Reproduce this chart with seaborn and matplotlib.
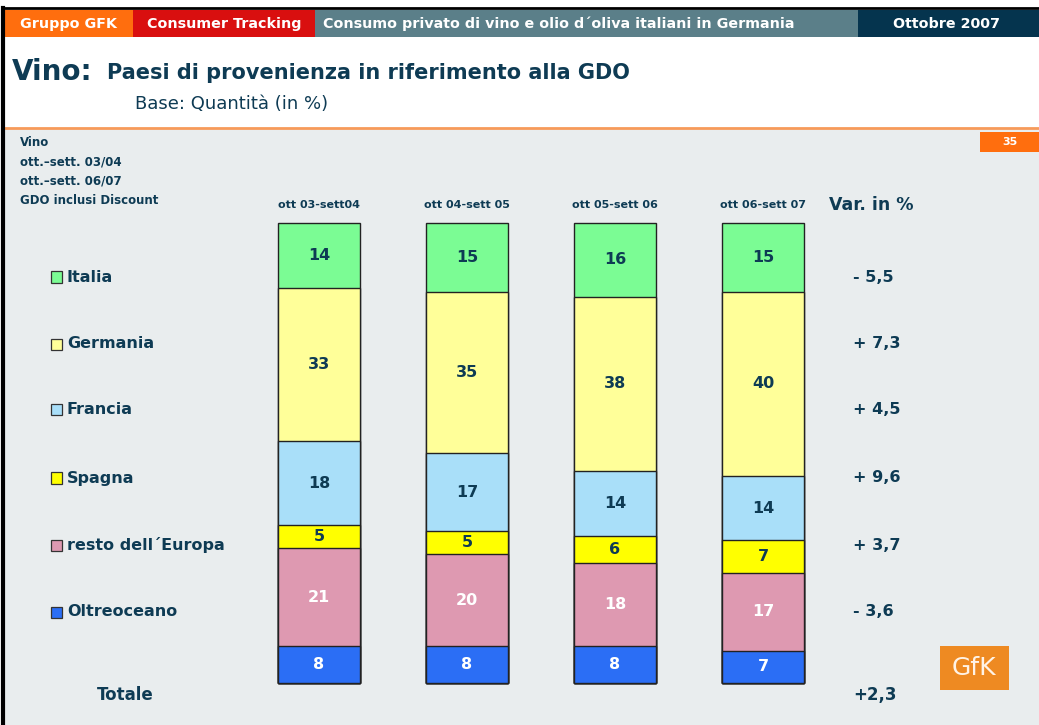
import numpy as np
import pandas as pd
import seaborn as sns
import matplotlib.pyplot as plt
from matplotlib.patches import Rectangle

periodi = ["ott 03-sett04", "ott 04-sett 05", "ott 05-sett 06", "ott 06-sett 07"]
# segmenti dal basso verso l'alto
paesi = ["Oltreoceano", "resto dell´Europa", "Spagna", "Francia", "Germania", "Italia"]
oltreoceano = [8, 8, 8, 7]
resto_europa = [21, 20, 18, 17]
spagna = [5, 5, 6, 7]
francia = [18, 17, 14, 14]
germania = [33, 35, 38, 40]
italia = [14, 15, 16, 15]
var_pct = ["- 3,6", "+ 3,7", "+ 9,6", "+ 4,5", "+ 7,3", "- 5,5"]
var_totale = "+2,3"

colori = ["#2B6EF5", "#DE99B1", "#FFFF00", "#A9DFF9", "#FFFF99", "#7BFC94"]
col_testo = ["white", "white", "#0E3B54", "#0E3B54", "#0E3B54", "#0E3B54"]

NAVY = "#0E3B54"
W, H = 1039, 725

def fx(x):
    return x / W

def fy(y):
    return 1 - y / H

valori = np.array([oltreoceano, resto_europa, spagna, francia, germania, italia], dtype=float)
quote = valori / valori.sum(axis=0) * 100
cum = np.cumsum(quote, axis=0)

fig = plt.figure(figsize=(10.39, 7.25), dpi=100, facecolor="white")

# sfondo grigio e cornice
fig.patches.append(Rectangle((fx(5), 0), 1, fy(128), transform=fig.transFigure,
                             facecolor="#E9EDEE", edgecolor="none", zorder=-5))
fig.lines.append(plt.Line2D([fx(5), 1], [fy(128), fy(128)], transform=fig.transFigure,
                            color="#F79A5A", lw=2))
fig.lines.append(plt.Line2D([fx(3), fx(3)], [0, fy(8)], transform=fig.transFigure,
                            color="black", lw=3))
fig.lines.append(plt.Line2D([fx(3), 1], [fy(8), fy(8)], transform=fig.transFigure,
                            color="black", lw=2))

# intestazione
header = [(5, 133, 20, "#FF6E0E", "Gruppo GFK"),
          (133, 315, 147, "#D90F0F", "Consumer Tracking"),
          (315, 858, 323, "#5B7F89", "Consumo privato di vino e olio d´oliva italiani in Germania"),
          (858, 1039, 893, "#05344E", "Ottobre 2007")]
for x0, x1, xt, c, t in header:
    fig.patches.append(Rectangle((fx(x0), fy(37)), fx(x1 - x0), fy(10) - fy(37),
                                 transform=fig.transFigure, facecolor=c, edgecolor="none"))
    fig.text(fx(xt), fy(24), t, color="white", fontsize=10.3, fontweight="bold",
             ha="left", va="center")

fig.text(fx(12), fy(72), "Vino:", fontsize=20, fontweight="bold", color=NAVY, va="center")
fig.text(fx(107), fy(73), "Paesi di provenienza in riferimento alla GDO", fontsize=15,
         fontweight="bold", color=NAVY, va="center")
fig.text(fx(135), fy(104), "Base: Quantità (in %)", fontsize=13, color=NAVY, va="center")

for i, t in enumerate(["Vino", "ott.–sett. 03/04", "ott.–sett. 06/07", "GDO inclusi Discount"]):
    fig.text(fx(20), fy(143 + 19 * i), t, fontsize=8.5, fontweight="bold", color=NAVY, va="center")

fig.patches.append(Rectangle((fx(980), fy(152)), fx(59), fy(132) - fy(152),
                             transform=fig.transFigure, facecolor="#FF6E0E", edgecolor="none"))
fig.text(fx(1010), fy(142), "35", fontsize=8, fontweight="bold", color="white",
         ha="center", va="center")

# barre impilate
ax = fig.add_axes([fx(245), fy(683), fx(592), fy(223) - fy(683)])
ax.set_facecolor("none")
for k in range(len(paesi) - 1, -1, -1):
    df = pd.DataFrame({"periodo": periodi, "cum": cum[k]})
    sns.barplot(data=df, x="periodo", y="cum", order=periodi, color=colori[k], saturation=1,
                width=0.554, edgecolor="#222222", linewidth=1, ax=ax)
for p in ax.patches:
    p.set_clip_on(False)
for k in range(len(paesi)):
    for j in range(len(periodi)):
        ax.text(j, cum[k, j] - quote[k, j] / 2, f"{int(valori[k, j])}", ha="center", va="center",
                fontsize=11.5, fontweight="bold", color=col_testo[k])
ax.set_xlim(-0.5, 3.5)
ax.set_ylim(0, 100)
ax.axis("off")

for j, p in enumerate(periodi):
    ax.text(j, 1.0 + 18 / 460, p, transform=ax.get_xaxis_transform(), ha="center", va="center",
            fontsize=8, fontweight="bold", color=NAVY)
fig.text(fx(871), fy(205), "Var. in %", fontsize=12.5, fontweight="bold", color=NAVY,
         ha="center", va="center")

# legenda e variazioni
leg_y = [612, 545, 478, 410, 344, 277]
for k in range(len(paesi)):
    y = leg_y[k]
    fig.patches.append(Rectangle((fx(51), fy(y + 5.5)), fx(11), fy(y - 5.5) - fy(y + 5.5),
                                 transform=fig.transFigure, facecolor=colori[k],
                                 edgecolor="#333333", lw=0.9))
    fig.text(fx(67), fy(y), paesi[k], fontsize=11.5, fontweight="bold", color=NAVY, va="center")
    fig.text(fx(853), fy(y), var_pct[k], fontsize=11.5, fontweight="bold", color=NAVY, va="center")

fig.text(fx(97), fy(695), "Totale", fontsize=12, fontweight="bold", color=NAVY, va="center")
fig.text(fx(853), fy(695), var_totale, fontsize=12, fontweight="bold", color=NAVY, va="center")

# logo
fig.patches.append(Rectangle((fx(940), fy(690)), fx(69), fy(646) - fy(690),
                             transform=fig.transFigure, facecolor="#EE8A22", edgecolor="none"))
fig.text(fx(974), fy(668), "GfK", fontsize=18, color="#FFF3E6", ha="center", va="center")

fig.savefig("out.png", dpi=100)
